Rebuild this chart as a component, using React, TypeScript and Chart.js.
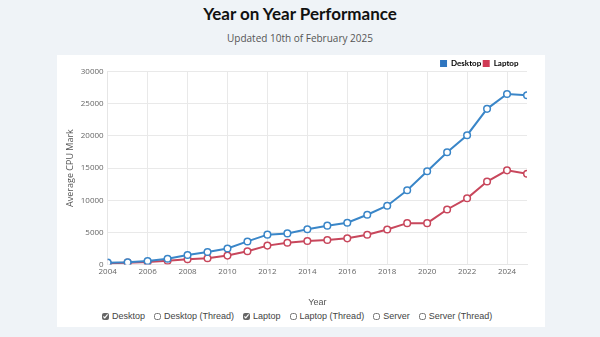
import React, { useEffect, useRef } from "react";
import { Chart, registerables } from "chart.js";

Chart.register(...registerables);

const years = [2004, 2005, 2006, 2007, 2008, 2009, 2010, 2011, 2012, 2013, 2014, 2015, 2016, 2017, 2018, 2019, 2020, 2021, 2022, 2023, 2024, 2025];
const desktop = [300, 350, 550, 900, 1500, 1950, 2500, 3600, 4650, 4850, 5500, 6050, 6500, 7750, 9150, 11550, 14500, 17450, 20100, 24200, 26500, 26300];
const laptop = [200, 300, 400, 600, 830, 980, 1400, 2070, 2950, 3400, 3670, 3820, 4080, 4640, 5460, 6440, 6440, 8560, 10300, 12900, 14640, 14120];
const checkboxItems = ["Desktop", "Desktop (Thread)", "Laptop", "Laptop (Thread)", "Server", "Server (Thread)"];
const checkedItems = ["Desktop", "Laptop"];

const BLUE = "#3a86c8";
const RED = "#c8475c";

const legendTweak = {
  id: "legendTweak",
  beforeInit(chart: any) {
    const legend = chart.legend;
    if (!legend) return;
    const fit = legend.fit;
    legend.fit = function () {
      fit.call(legend);
      legend.height -= 6;
    };
  },
  afterLayout(chart: any) {
    if (chart.legend) chart.legend.right -= 7;
  },
};

export default function App() {
  const ref = useRef<HTMLCanvasElement | null>(null);

  useEffect(() => {
    document.body.style.margin = "0";
    const ctx = ref.current!;
    const chart = new Chart(ctx, {
      type: "line",
      plugins: [legendTweak],
      data: {
        datasets: [
          {
            label: "Desktop",
            data: years.map((y, i) => ({ x: y, y: desktop[i] })),
            borderColor: BLUE,
            backgroundColor: "#2f76c0",
            pointBackgroundColor: "#ffffff",
            pointBorderColor: BLUE,
            pointRadius: 3.3,
            pointBorderWidth: 1.5,
            borderWidth: 2,
            tension: 0,
          },
          {
            label: "Laptop",
            data: years.map((y, i) => ({ x: y, y: laptop[i] })),
            borderColor: RED,
            backgroundColor: "#d03a55",
            pointBackgroundColor: "#ffffff",
            pointBorderColor: RED,
            pointRadius: 3.3,
            pointBorderWidth: 1.5,
            borderWidth: 2,
            tension: 0,
          },
        ],
      },
      options: {
        animation: false,
        responsive: false,
        layout: { padding: { left: 3, right: 18, top: 3, bottom: 0 } },
        plugins: {
          legend: {
            position: "top",
            align: "end",
            labels: {
              boxWidth: 7,
              boxHeight: 7,
              padding: 1.5,
              color: "#333",
              font: { family: "Lato", size: 8, weight: "bold" },
              generateLabels: (c: any) =>
                c.data.datasets.map((d: any, i: number) => ({
                  text: d.label,
                  fillStyle: d.backgroundColor,
                  strokeStyle: d.backgroundColor,
                  lineWidth: 0,
                  datasetIndex: i,
                  hidden: false,
                })),
            },
          },
          tooltip: { enabled: false },
        },
        scales: {
          x: {
            type: "linear",
            min: 2004,
            max: 2025,
            ticks: {
              stepSize: 2,
              includeBounds: false,
              color: "#666",
              font: { family: "Open Sans", size: 8 },
              padding: 2,
              callback: (v: any) => String(v),
              maxRotation: 0,
            },
            grid: { color: "#e9e9e9", drawTicks: false },
            border: { color: "#e6e6e6" },
            title: {
              display: true,
              text: "Year",
              color: "#555",
              font: { family: "Liberation Sans", size: 9 },
              padding: { top: 19, bottom: 0 },
            },
          },
          y: {
            min: 0,
            max: 30000,
            ticks: {
              stepSize: 5000,
              color: "#666",
              font: { family: "Open Sans", size: 8 },
              padding: 4,
              callback: (v: any) => String(v),
            },
            grid: { color: "#e9e9e9", drawTicks: false },
            border: { color: "#e6e6e6" },
            title: {
              display: true,
              text: "Average CPU Mark",
              color: "#555",
              font: { family: "Open Sans", size: 9 },
              padding: { top: 5.5, bottom: 0.5 },
            },
          },
        },
      },
    });
    return () => chart.destroy();
  }, []);

  return (
    <div style={{ position: "relative", width: 600, height: 337, background: "#eff3f7", overflow: "hidden" }}>
      <div
        style={{
          position: "absolute",
          top: 3,
          left: 0,
          width: 600,
          textAlign: "center",
          fontFamily: "Lato",
          fontWeight: 700,
          fontSize: 17,
          color: "#111",
        }}
      >
        Year on Year Performance
      </div>
      <div
        style={{
          position: "absolute",
          top: 31,
          left: 0,
          width: 600,
          textAlign: "center",
          fontFamily: "Open Sans",
          fontSize: 10,
          color: "#555",
        }}
      >
        Updated 10th of February 2025
      </div>
      <div style={{ position: "absolute", left: 57, top: 55, width: 488, height: 272, background: "#ffffff" }}>
        <canvas ref={ref} width={488} height={253} style={{ display: "block" }} />
        <div
          style={{
            position: "absolute",
            top: 256,
            left: 45,
            whiteSpace: "nowrap",
            fontFamily: "Liberation Sans",
            fontSize: 9,
            color: "#444",
            display: "flex",
            alignItems: "center",
          }}
        >
          {checkboxItems.map((t) => (
            <label key={t} style={{ display: "inline-flex", alignItems: "center", marginRight: 9 }}>
              <input
                type="checkbox"
                defaultChecked={checkedItems.includes(t)}
                style={{ width: 7, height: 7, margin: "0 3px 0 0", accentColor: "#666" }}
              />
              {t}
            </label>
          ))}
        </div>
      </div>
    </div>
  );
}
